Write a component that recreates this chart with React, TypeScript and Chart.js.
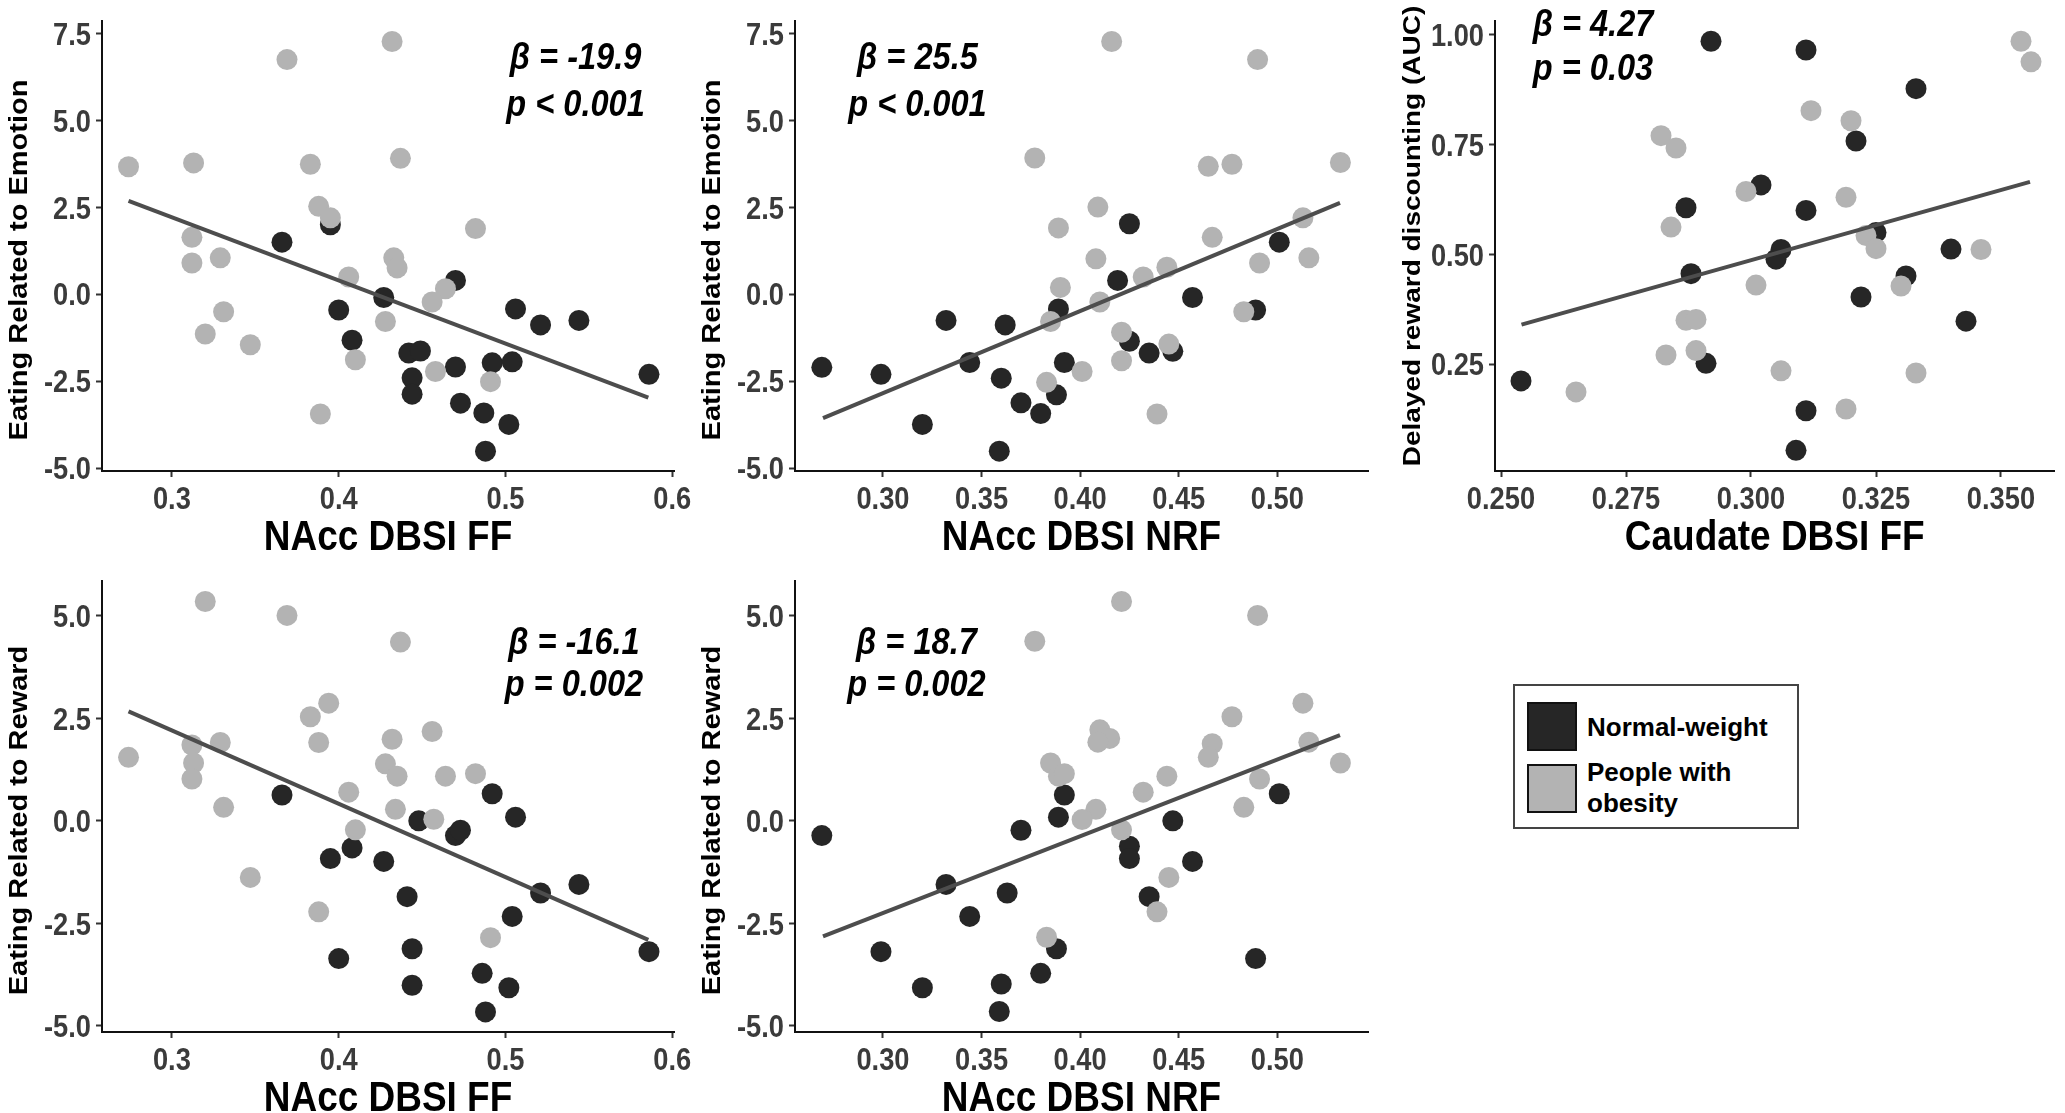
import React, { useEffect, useRef } from 'react';
import { Chart, registerables } from 'chart.js';

Chart.register(...registerables);

const FONT = '"Liberation Sans", Arial, Helvetica, sans-serif';

type Pt = [number, number];

// ---------- tick labels ----------
const ffTicks = [0.3, 0.4, 0.5, 0.6];
const nrfTicks = [0.3, 0.35, 0.4, 0.45, 0.5];
const caudateTicks = [0.25, 0.275, 0.3, 0.325, 0.35];
const emotionTicks = [-5, -2.5, 0, 2.5, 5, 7.5];
const rewardTicks = [-5, -2.5, 0, 2.5, 5];
const aucTicks = [0.25, 0.5, 0.75, 1.0];

// ---------- panel 1: NAcc FF vs Emotion ----------
const p1Normal: Pt[] = [
  [0.366, 1.5], [0.395, 2.0], [0.47, 0.4], [0.427, -0.09], [0.4, -0.45], [0.408, -1.32],
  [0.442, -1.69], [0.449, -1.63], [0.444, -2.4], [0.444, -2.87], [0.47, -2.09], [0.492, -1.97],
  [0.504, -1.94], [0.506, -0.42], [0.521, -0.88], [0.544, -0.75], [0.586, -2.3], [0.473, -3.13],
  [0.487, -3.41], [0.502, -3.74], [0.488, -4.51],
];
const p1Obese: Pt[] = [
  [0.274, 3.67], [0.313, 3.78], [0.369, 6.75], [0.432, 7.27], [0.383, 3.74], [0.437, 3.91],
  [0.388, 2.53], [0.395, 2.2], [0.312, 1.64], [0.312, 0.9], [0.329, 1.05], [0.482, 1.89],
  [0.433, 1.05], [0.435, 0.76], [0.406, 0.5], [0.464, 0.16], [0.456, -0.22], [0.331, -0.5],
  [0.32, -1.14], [0.347, -1.45], [0.428, -0.78], [0.41, -1.88], [0.458, -2.22], [0.491, -2.51],
  [0.389, -3.44],
];
const p1Fit: Pt[] = [[0.274, 2.69], [0.5856, -2.97]];

// ---------- panel 2: NAcc NRF vs Emotion ----------
const p2Normal: Pt[] = [
  [0.269, -2.1], [0.299, -2.3], [0.32, -3.74], [0.332, -0.75], [0.344, -1.96], [0.36, -2.41],
  [0.362, -0.88], [0.359, -4.51], [0.37, -3.12], [0.38, -3.43], [0.388, -2.89], [0.389, -0.42],
  [0.392, -1.96], [0.419, 0.4], [0.425, 2.03], [0.425, -1.35], [0.435, -1.69], [0.447, -1.64],
  [0.457, -0.09], [0.489, -0.45], [0.501, 1.5],
];
const p2Obese: Pt[] = [
  [0.416, 7.27], [0.49, 6.75], [0.377, 3.92], [0.465, 3.68], [0.477, 3.74], [0.532, 3.79],
  [0.409, 2.51], [0.389, 1.91], [0.513, 2.2], [0.467, 1.64], [0.408, 1.02], [0.491, 0.9],
  [0.516, 1.05], [0.444, 0.78], [0.432, 0.5], [0.39, 0.2], [0.41, -0.22], [0.385, -0.78],
  [0.483, -0.5], [0.421, -1.09], [0.445, -1.43], [0.421, -1.91], [0.401, -2.22], [0.383, -2.53],
  [0.439, -3.44],
];
const p2Fit: Pt[] = [[0.2696, -3.56], [0.5318, 2.63]];

// ---------- panel 3: Caudate FF vs AUC ----------
const p3Normal: Pt[] = [
  [0.292, 0.985], [0.311, 0.965], [0.333, 0.877], [0.321, 0.758], [0.302, 0.658], [0.287, 0.606],
  [0.311, 0.6], [0.325, 0.55], [0.306, 0.511], [0.305, 0.489], [0.34, 0.512], [0.288, 0.456],
  [0.331, 0.451], [0.322, 0.403], [0.343, 0.348], [0.291, 0.252], [0.254, 0.212], [0.311, 0.144],
  [0.309, 0.054],
];
const p3Obese: Pt[] = [
  [0.354, 0.985], [0.356, 0.938], [0.312, 0.827], [0.32, 0.804], [0.282, 0.77], [0.285, 0.742],
  [0.299, 0.643], [0.319, 0.63], [0.284, 0.562], [0.323, 0.543], [0.325, 0.513], [0.346, 0.511],
  [0.301, 0.43], [0.33, 0.428], [0.287, 0.35], [0.289, 0.352], [0.283, 0.271], [0.289, 0.281],
  [0.306, 0.235], [0.333, 0.23], [0.265, 0.187], [0.319, 0.148],
];
const p3Fit: Pt[] = [[0.2541, 0.34], [0.3558, 0.665]];

// ---------- panel 4: NAcc FF vs Reward ----------
const p4Normal: Pt[] = [
  [0.366, 0.63], [0.492, 0.66], [0.448, 0.0], [0.506, 0.09], [0.47, -0.36], [0.473, -0.23],
  [0.408, -0.66], [0.395, -0.92], [0.427, -0.99], [0.441, -1.85], [0.521, -1.76], [0.544, -1.55],
  [0.504, -2.33], [0.444, -3.12], [0.4, -3.36], [0.586, -3.19], [0.486, -3.72], [0.444, -4.01],
  [0.502, -4.07], [0.488, -4.66],
];
const p4Obese: Pt[] = [
  [0.32, 5.35], [0.369, 5.01], [0.437, 4.36], [0.394, 2.87], [0.383, 2.54], [0.456, 2.18],
  [0.432, 1.99], [0.388, 1.91], [0.329, 1.91], [0.312, 1.85], [0.274, 1.55], [0.313, 1.41],
  [0.312, 1.02], [0.428, 1.39], [0.435, 1.09], [0.464, 1.09], [0.482, 1.15], [0.406, 0.7],
  [0.331, 0.33], [0.434, 0.28], [0.457, 0.04], [0.41, -0.22], [0.347, -1.38], [0.388, -2.22],
  [0.491, -2.85],
];
const p4Fit: Pt[] = [[0.274, 2.67], [0.5856, -2.905]];

// ---------- panel 5: NAcc NRF vs Reward ----------
const p5Normal: Pt[] = [
  [0.269, -0.36], [0.299, -3.19], [0.32, -4.07], [0.332, -1.55], [0.344, -2.33], [0.36, -3.98],
  [0.363, -1.76], [0.359, -4.65], [0.37, -0.23], [0.38, -3.72], [0.388, -3.12], [0.389, 0.09],
  [0.392, 0.63], [0.425, -0.62], [0.425, -0.92], [0.435, -1.85], [0.447, 0.0], [0.457, -0.99],
  [0.489, -3.36], [0.501, 0.66],
];
const p5Obese: Pt[] = [
  [0.421, 5.35], [0.49, 5.01], [0.377, 4.38], [0.513, 2.87], [0.477, 2.54], [0.41, 2.22],
  [0.415, 2.01], [0.409, 1.92], [0.467, 1.88], [0.516, 1.92], [0.465, 1.55], [0.532, 1.41],
  [0.385, 1.41], [0.389, 1.09], [0.392, 1.15], [0.444, 1.09], [0.491, 1.02], [0.432, 0.7],
  [0.408, 0.28], [0.401, 0.03], [0.483, 0.33], [0.421, -0.22], [0.445, -1.38], [0.439, -2.22],
  [0.383, -2.84],
];
const p5Fit: Pt[] = [[0.2696, -2.82], [0.5318, 2.09]];

// ---------- statistics text ----------
const p1Stats = ['β = -19.9', 'p < 0.001'];
const p2Stats = ['β = 25.5', 'p < 0.001'];
const p3Stats = ['β = 4.27', 'p = 0.03'];
const p4Stats = ['β = -16.1', 'p = 0.002'];
const p5Stats = ['β = 18.7', 'p = 0.002'];

const legendLabels = ['Normal-weight', 'People with', 'obesity'];

const DARK = '#262626';
const LIGHT = '#b3b3b3';
const LINE = '#4d4d4d';
const TICK_COLOR = '#3b3b3b';

// horizontal squeeze of the original figure's lettering
const SQUEEZE = 0.88;
const TICK_SIZE = 31;
const XTITLE_SIZE = 42;
const STAT_SIZE = 37;

interface PanelSpec {
  left: number; top: number; right: number; bottom: number;
  axisW: number; padRight: number;
  xMin: number; xMax: number; yMin: number; yMax: number;
  xTicks: number[]; yTicks: number[]; xDec: number; yDec: number;
  xTitle: string; yTitle: string; yTitleSize: number; yTitleShift: number;
  normal: Pt[]; obese: Pt[]; fit: Pt[];
  stats: string[]; statX: number; statY: number[];
}

const PAD_TOP = 20;
const X_AXIS_H = 84;

function drawText(
  ctx: CanvasRenderingContext2D, text: string, x: number, y: number,
  font: string, color: string, align: CanvasTextAlign, rotate = false,
) {
  ctx.save();
  ctx.translate(x, y);
  if (rotate) {
    ctx.rotate(-Math.PI / 2);
    ctx.scale(1, SQUEEZE);
  } else {
    ctx.scale(SQUEEZE, 1);
  }
  ctx.font = font;
  ctx.fillStyle = color;
  ctx.textAlign = align;
  ctx.textBaseline = 'alphabetic';
  ctx.fillText(text, 0, 0);
  ctx.restore();
}

function makeTextPlugin(spec: PanelSpec) {
  return {
    id: 'panelText',
    afterDraw(chart: any) {
      const ctx: CanvasRenderingContext2D = chart.ctx;
      const xs = chart.scales.x;
      const ys = chart.scales.y;
      const ca = chart.chartArea;
      const tickFont = `bold ${TICK_SIZE}px ${FONT}`;
      // x tick labels
      spec.xTicks.forEach((v) => {
        drawText(ctx, v.toFixed(spec.xDec), xs.getPixelForValue(v), ca.bottom + 27 + 0.36 * TICK_SIZE,
          tickFont, TICK_COLOR, 'center');
      });
      // y tick labels
      spec.yTicks.forEach((v) => {
        drawText(ctx, v.toFixed(spec.yDec), ca.left - 11, ys.getPixelForValue(v) + 0.36 * TICK_SIZE,
          tickFont, TICK_COLOR, 'right');
      });
      // x title
      drawText(ctx, spec.xTitle, (ca.left + ca.right) / 2, ca.bottom + 64 + 0.36 * XTITLE_SIZE,
        `bold ${XTITLE_SIZE}px ${FONT}`, '#000', 'center');
      // y title (rotated)
      const cy = (ca.top + ca.bottom) / 2 + spec.yTitleShift;
      drawText(ctx, spec.yTitle, ca.left - 84 + 0.36 * spec.yTitleSize * SQUEEZE, cy,
        `bold ${spec.yTitleSize}px ${FONT}`, '#000', 'center', true);
      // statistics
      spec.stats.forEach((t, i) => {
        drawText(ctx, t, xs.getPixelForValue(spec.statX), ys.getPixelForValue(spec.statY[i]),
          `italic bold ${STAT_SIZE}px ${FONT}`, '#000', 'center');
      });
    },
  };
}

function Panel({ spec }: { spec: PanelSpec }) {
  const ref = useRef<HTMLCanvasElement | null>(null);
  const w = spec.axisW + (spec.right - spec.left) + spec.padRight;
  const h = PAD_TOP + (spec.bottom - spec.top) + X_AXIS_H;

  useEffect(() => {
    if (!ref.current) return;
    const toXY = (arr: Pt[]) => arr.map(([x, y]) => ({ x, y }));
    const chart = new Chart(ref.current, {
      type: 'scatter',
      data: {
        datasets: [
          {
            data: toXY(spec.fit),
            showLine: true,
            borderColor: LINE,
            borderWidth: 4,
            pointRadius: 0,
            fill: false,
            order: 0,
          } as any,
          {
            data: toXY(spec.obese),
            pointRadius: 10.5,
            pointBackgroundColor: LIGHT,
            pointBorderColor: LIGHT,
            pointBorderWidth: 0,
            backgroundColor: LIGHT,
            borderColor: LIGHT,
            order: 1,
          },
          {
            data: toXY(spec.normal),
            pointRadius: 10.5,
            pointBackgroundColor: DARK,
            pointBorderColor: DARK,
            pointBorderWidth: 0,
            backgroundColor: DARK,
            borderColor: DARK,
            order: 2,
          },
        ],
      },
      options: {
        responsive: false,
        animation: false,
        devicePixelRatio: 1,
        events: [],
        layout: { padding: { top: PAD_TOP, right: spec.padRight, left: 0, bottom: 0 } },
        plugins: {
          legend: { display: false },
          tooltip: { enabled: false },
        },
        scales: {
          x: {
            type: 'linear',
            min: spec.xMin,
            max: spec.xMax,
            afterBuildTicks: (s: any) => { s.ticks = spec.xTicks.map((v) => ({ value: v })); },
            afterFit: (s: any) => { s.height = X_AXIS_H; },
            ticks: { display: false, autoSkip: false, maxRotation: 0 },
            grid: { drawOnChartArea: false, drawTicks: true, tickLength: 6, tickWidth: 2, tickColor: '#333' },
            border: { display: true, color: '#111', width: 2 },
            title: { display: false, text: spec.xTitle },
          },
          y: {
            type: 'linear',
            min: spec.yMin,
            max: spec.yMax,
            afterBuildTicks: (s: any) => { s.ticks = spec.yTicks.map((v) => ({ value: v })); },
            afterFit: (s: any) => { s.width = spec.axisW; },
            ticks: { display: false, autoSkip: false },
            grid: { drawOnChartArea: false, drawTicks: true, tickLength: 6, tickWidth: 2, tickColor: '#333' },
            border: { display: true, color: '#111', width: 2 },
            title: { display: false, text: spec.yTitle },
          },
        },
      } as any,
      plugins: [makeTextPlugin(spec) as any],
    });
    return () => chart.destroy();
  }, [spec]);

  return (
    <canvas
      ref={ref}
      width={w}
      height={h}
      style={{
        position: 'absolute',
        left: spec.left - spec.axisW,
        top: spec.top - PAD_TOP,
        width: w,
        height: h,
        display: 'block',
      }}
    />
  );
}

const FF_RANGE = { xMin: 0.2581, xMax: 0.601 };
const NRF_RANGE = { xMin: 0.2554, xMax: 0.546 };
const EMO_RANGE = { yMin: -5.08, yMax: 7.86 };
const REW_RANGE = { yMin: -5.15, yMax: 5.85 };

const panels: PanelSpec[] = [
  {
    left: 102, top: 21, right: 674, bottom: 471, axisW: 100, padRight: 42,
    ...FF_RANGE, ...EMO_RANGE, xTicks: ffTicks, yTicks: emotionTicks, xDec: 1, yDec: 1,
    xTitle: 'NAcc DBSI FF', yTitle: 'Eating Related to Emotion', yTitleSize: 29, yTitleShift: 14,
    normal: p1Normal, obese: p1Obese, fit: p1Fit,
    stats: p1Stats, statX: 0.542, statY: [6.47, 5.13],
  },
  {
    left: 795, top: 21, right: 1368, bottom: 471, axisW: 100, padRight: 42,
    ...NRF_RANGE, ...EMO_RANGE, xTicks: nrfTicks, yTicks: emotionTicks, xDec: 2, yDec: 1,
    xTitle: 'NAcc DBSI NRF', yTitle: 'Eating Related to Emotion', yTitleSize: 29, yTitleShift: 14,
    normal: p2Normal, obese: p2Obese, fit: p2Fit,
    stats: p2Stats, statX: 0.3175, statY: [6.47, 5.13],
  },
  {
    left: 1495, top: 21, right: 2059, bottom: 471, axisW: 110, padRight: 6,
    xMin: 0.2488, xMax: 0.3607, yMin: 0.007, yMax: 1.031,
    xTicks: caudateTicks, yTicks: aucTicks, xDec: 3, yDec: 2,
    xTitle: 'Caudate DBSI FF', yTitle: 'Delayed reward discounting (AUC)', yTitleSize: 28, yTitleShift: -10,
    normal: p3Normal, obese: p3Obese, fit: p3Fit,
    stats: p3Stats, statX: 0.2684, statY: [0.998, 0.896],
  },
  {
    left: 102, top: 581, right: 674, bottom: 1032, axisW: 100, padRight: 42,
    ...FF_RANGE, ...REW_RANGE, xTicks: ffTicks, yTicks: rewardTicks, xDec: 1, yDec: 1,
    xTitle: 'NAcc DBSI FF', yTitle: 'Eating Related to Reward', yTitleSize: 29, yTitleShift: 14,
    normal: p4Normal, obese: p4Obese, fit: p4Fit,
    stats: p4Stats, statX: 0.541, statY: [4.08, 3.04],
  },
  {
    left: 795, top: 581, right: 1368, bottom: 1032, axisW: 100, padRight: 42,
    ...NRF_RANGE, ...REW_RANGE, xTicks: nrfTicks, yTicks: rewardTicks, xDec: 2, yDec: 1,
    xTitle: 'NAcc DBSI NRF', yTitle: 'Eating Related to Reward', yTitleSize: 29, yTitleShift: 14,
    normal: p5Normal, obese: p5Obese, fit: p5Fit,
    stats: p5Stats, statX: 0.317, statY: [4.08, 3.04],
  },
];

function Legend() {
  const text: React.CSSProperties = {
    position: 'absolute',
    fontFamily: FONT,
    fontWeight: 'bold',
    fontSize: 26,
    lineHeight: '31px',
    color: '#000',
    whiteSpace: 'nowrap',
  };
  const key: React.CSSProperties = {
    position: 'absolute',
    width: 50,
    height: 49,
    boxSizing: 'border-box',
    border: '2px solid #111',
  };
  return (
    <>
      <div style={{ position: 'absolute', left: 1513, top: 684, width: 286, height: 145, boxSizing: 'border-box', border: '2px solid #444', background: '#fff' }} />
      <div style={{ ...key, left: 1527, top: 702, background: DARK }} />
      <div style={{ ...key, left: 1527, top: 764, background: LIGHT }} />
      <div style={{ ...text, left: 1587, top: 712 }}>{legendLabels[0]}</div>
      <div style={{ ...text, left: 1587, top: 757 }}>{legendLabels[1]}</div>
      <div style={{ ...text, left: 1587, top: 788 }}>{legendLabels[2]}</div>
    </>
  );
}

export default function App() {
  return (
    <div
      style={{
        position: 'absolute',
        left: 0,
        top: 0,
        width: 2065,
        height: 1113,
        background: '#fff',
        overflow: 'hidden',
      }}
    >
      {panels.map((p, i) => (
        <Panel key={i} spec={p} />
      ))}
      <Legend />
    </div>
  );
}
